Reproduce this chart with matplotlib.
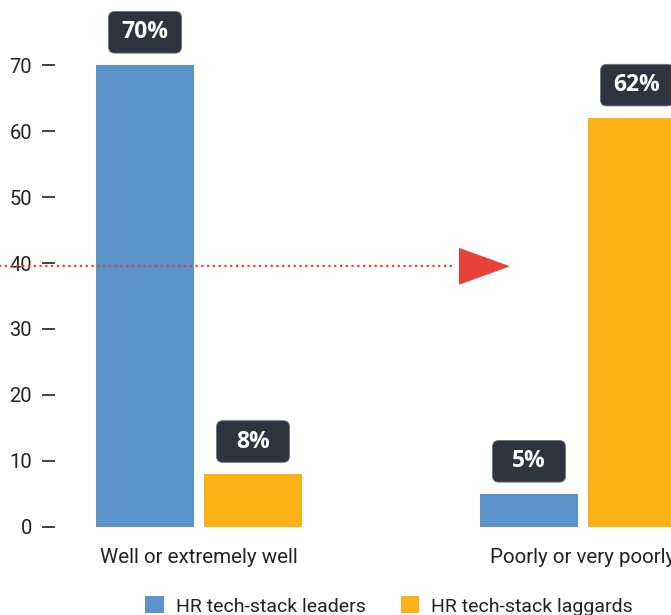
import matplotlib.pyplot as plt
from matplotlib.patches import FancyBboxPatch, Polygon
import numpy as np

categories = ["Well or extremely well", "Poorly or very poorly"]
leaders = [70, 5]
laggards = [8, 62]
series_names = ["HR tech-stack leaders", "HR tech-stack laggards"]
yticks = [0, 10, 20, 30, 40, 50, 60, 70]
threshold = 39.5

blue = "#5b93cb"
amber = "#fbb216"
dark = "#2d3440"
red = "#e8413a"

plt.rcParams["font.family"] = ["Roboto", "DejaVu Sans"]

fig = plt.figure(figsize=(6.71, 6.15), dpi=100)
ax = fig.add_axes([55 / 671, 88 / 615, 616 / 671, 1 - 88 / 615])

x = np.arange(len(categories))
w = 0.255
off = 0.1406
b1 = ax.bar(x - off, leaders, w, color=blue, label=series_names[0])
b2 = ax.bar(x + off, laggards, w, color=amber, label=series_names[1])

ax.set_xlim(-0.375, -0.375 + 616 / 384)
ax.set_ylim(0, 527 / 6.6)

# value tags above bars
box_w, box_h, gap = 0.19, 6.3, 1.8
aspect = (1 / 6.6) / (1 / 384)
for bars in (b1, b2):
    for bar in bars:
        v = bar.get_height()
        cx = bar.get_x() + bar.get_width() / 2
        y0 = v + gap
        patch = FancyBboxPatch((cx - box_w / 2, y0), box_w, box_h,
                               boxstyle="round,pad=0,rounding_size=0.016",
                               mutation_aspect=aspect,
                               fc=dark, ec="#6b717b", lw=0.6, clip_on=False)
        ax.add_patch(patch)
        ax.text(cx, y0 + box_h / 2, f"{v:g}%", ha="center", va="center",
                color="white", fontsize=16.5, fontweight="bold",
                family=["Open Sans", "DejaVu Sans"], clip_on=False)

# dotted guide with arrow head
ax.plot([-0.52, 0.667], [threshold, threshold], color=red, lw=1.6,
        linestyle=(0, (1, 1.6)), clip_on=False)
tri = Polygon([[0.677, threshold + 2.8], [0.810, threshold], [0.677, threshold - 2.8]],
              closed=True, fc=red, ec="none", clip_on=False)
ax.add_patch(tri)

ax.set_yticks(yticks)
ax.set_xticks(x)
ax.set_xticklabels(categories)
for s in ax.spines.values():
    s.set_visible(False)
ax.tick_params(axis="y", length=9.5, width=1.2, color="#222222", pad=7,
               labelsize=14.5, labelcolor="#222222")
ax.tick_params(axis="x", length=0, pad=15, labelsize=14.8, labelcolor="#222222")

fig.legend(loc="center", bbox_to_anchor=(389 / 671, 1 - 606 / 615), ncol=2,
           frameon=False, fontsize=14, handlelength=0.95, handleheight=0.95,
           handletextpad=0.62, columnspacing=1.8, labelcolor="#222222")

fig.savefig("out.png", dpi=100)
